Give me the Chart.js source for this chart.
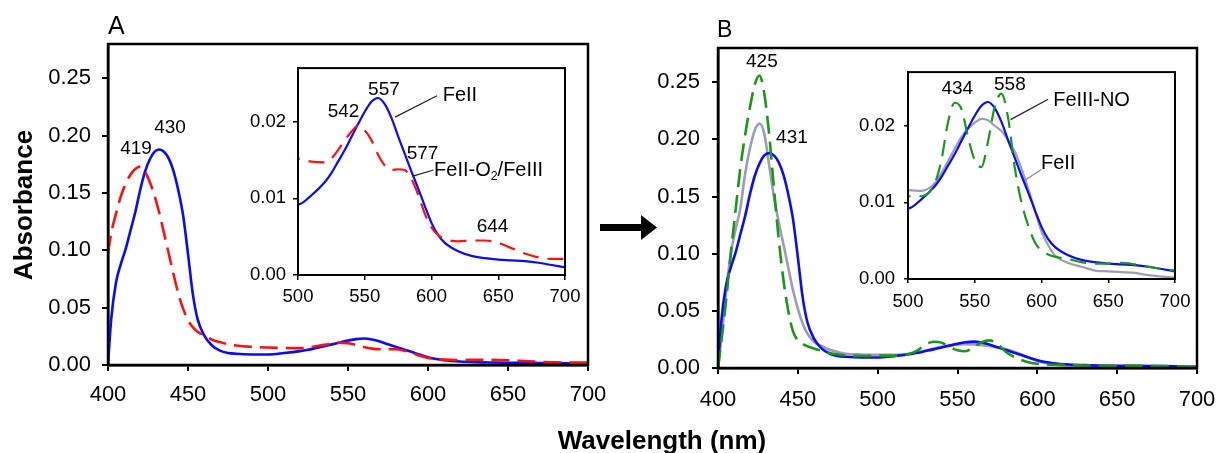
<!DOCTYPE html>
<html><head><meta charset="utf-8">
<script src="https://cdn.jsdelivr.net/npm/chart.js@4.4.0/dist/chart.umd.min.js"></script>
<style>
html,body{margin:0;padding:0;background:#fff;}
body{width:1218px;height:453px;position:relative;overflow:hidden;font-family:"Liberation Sans",Arial,sans-serif;}
canvas{position:absolute;}
.lbl{position:absolute;line-height:1;white-space:nowrap;color:#000;}
</style></head><body>
<canvas id="mainA" width="620" height="420" style="left:0;top:0"></canvas>
<canvas id="mainB" width="630" height="420" style="left:610px;top:0"></canvas>
<canvas id="insetA" width="380" height="280" style="left:230px;top:50px"></canvas>
<canvas id="insetB" width="378" height="280" style="left:840px;top:52px"></canvas>
<svg style="position:absolute;left:0;top:0" width="1218" height="453">
  <polygon points="600,224 641,224 641,215 657,227.5 641,240 641,231 600,231" fill="#000"/>
</svg>
<div class="lbl" style="left:108px;top:13px;font-size:25px">A</div>
<div class="lbl" style="left:717px;top:18px;font-size:23px">B</div>
<div class="lbl" style="left:23px;top:205px;font-size:26px;font-weight:bold;transform:translate(-50%,-50%) rotate(-90deg)">Absorbance</div>
<div class="lbl" style="left:662px;top:440px;font-size:26px;font-weight:bold;transform:translate(-50%,-50%)">Wavelength (nm)</div>
<script>
const FONT = '"Liberation Sans", Arial, sans-serif';

// ---- data ----
const wavelengths = [400,402,405,408,411,414,417,420,423,426,429,432,435,438,441,444,447,450,453,456,460,465,470,475,480,490,500,510,520,525,530,535,540,545,550,555,560,565,570,575,580,585,590,595,600,605,610,620,630,640,650,660,670,680,690,700];

const feII = [0.000,0.040,0.072,0.088,0.101,0.117,0.133,0.152,0.168,0.179,0.186,0.188,0.186,0.180,0.169,0.152,0.130,0.097,0.062,0.040,0.026,0.017,0.0125,0.0105,0.0098,0.0092,0.0092,0.0104,0.0121,0.0133,0.0148,0.0163,0.0180,0.0197,0.0213,0.0226,0.0231,0.0223,0.0205,0.0181,0.0158,0.0135,0.0113,0.0090,0.0068,0.0052,0.0042,0.0031,0.0025,0.0022,0.0020,0.0019,0.0018,0.0016,0.0013,0.0010];

const feIIO2 = [0.097,0.115,0.132,0.147,0.158,0.166,0.171,0.173,0.169,0.160,0.148,0.133,0.115,0.097,0.079,0.062,0.049,0.039,0.033,0.029,0.026,0.022,0.020,0.018,0.017,0.0158,0.0152,0.0148,0.0147,0.0152,0.0163,0.0176,0.0187,0.0195,0.0189,0.0176,0.0157,0.0143,0.0137,0.0138,0.0137,0.0125,0.0105,0.0080,0.0062,0.0052,0.0047,0.0044,0.0045,0.0045,0.0042,0.0035,0.0028,0.0023,0.0021,0.0021];

const feIIINO = [0.000,0.022,0.058,0.100,0.138,0.175,0.204,0.228,0.248,0.256,0.240,0.205,0.158,0.113,0.077,0.050,0.032,0.024,0.021,0.019,0.017,0.015,0.013,0.012,0.011,0.0105,0.0108,0.0108,0.0125,0.0155,0.0205,0.0230,0.0222,0.0185,0.0155,0.0146,0.0180,0.0225,0.0242,0.0210,0.0145,0.0100,0.0070,0.0048,0.0037,0.0032,0.0029,0.0026,0.0022,0.0020,0.0020,0.0021,0.0019,0.0016,0.0013,0.0011];

const greySeries = [0.000,0.025,0.065,0.100,0.121,0.140,0.170,0.192,0.208,0.214,0.205,0.178,0.150,0.128,0.108,0.088,0.068,0.052,0.039,0.030,0.023,0.019,0.016,0.014,0.0125,0.0118,0.0116,0.0115,0.0125,0.0138,0.0154,0.0170,0.0185,0.0196,0.0204,0.0209,0.0207,0.0200,0.0193,0.0181,0.0166,0.0144,0.0118,0.0090,0.0062,0.0044,0.0031,0.0021,0.0016,0.0011,0.0010,0.0009,0.0008,0.0005,0.0003,0.0002];

const xTicksMain = [400,450,500,550,600,650,700];
const yTicksMain = [0,0.05,0.10,0.15,0.20,0.25];
const xTicksInset = [500,550,600,650,700];
const yTicksInset = [0,0.01,0.02];

const BLUE = '#0a0aff', RED = '#ff1010', GREEN = '#1a961a', GREY = '#9c9cb4';

// ---- plugins ----
const frame = {
  id:'frame',
  afterDatasetsDraw(chart, args, opts){
    const {ctx, chartArea:a} = chart;
    ctx.save(); ctx.strokeStyle='#000'; ctx.lineWidth=opts.w;
    ctx.strokeRect(a.left, a.top, a.right-a.left, a.bottom-a.top);
    ctx.restore();
  }
};
const notes = {
  id:'notes',
  afterDraw(chart, args, opts){
    const ctx = chart.ctx, xs = chart.scales.x, ys = chart.scales.y;
    ctx.save();
    (opts.lines||[]).forEach(l=>{
      ctx.strokeStyle=l.color; ctx.lineWidth=1.2; ctx.beginPath();
      ctx.moveTo(xs.getPixelForValue(l.x1), ys.getPixelForValue(l.y1));
      ctx.lineTo(xs.getPixelForValue(l.x2), ys.getPixelForValue(l.y2));
      ctx.stroke();
    });
    (opts.items||[]).forEach(n=>{
      ctx.fillStyle='#000'; ctx.textBaseline='middle';
      let x = xs.getPixelForValue(n.x), y = ys.getPixelForValue(n.y);
      if (n.parts){
        ctx.textAlign='left';
        n.parts.forEach(p=>{
          const sz = p.sub ? n.size*0.62 : n.size;
          ctx.font = sz+'px '+FONT;
          ctx.fillText(p.t, x, y + (p.sub ? n.size*0.3 : 0));
          x += ctx.measureText(p.t).width;
        });
      } else {
        ctx.font = n.size+'px '+FONT;
        ctx.textAlign = n.align||'center';
        ctx.fillText(n.t, x, y);
      }
    });
    ctx.restore();
  }
};

function makeChart(id, c){
  return new Chart(document.getElementById(id), {
    type:'line',
    data:{datasets:c.series.map(s=>({
      data: wavelengths.map((w,i)=>({x:w, y:s.values[i]})),
      borderColor:s.color, borderWidth:s.width, borderDash:s.dash||[],
      borderCapStyle:'butt', pointRadius:0, fill:false, cubicInterpolationMode:'monotone'
    }))},
    options:{
      responsive:false, animation:false, devicePixelRatio:1,
      layout:{padding:c.pad},
      plugins:{legend:{display:false}, tooltip:{enabled:false}, frame:{w:c.frameW}, notes:{items:c.notes, lines:c.lines}},
      scales:{
        x:{type:'linear', min:c.xmin, max:c.xmax,
          afterBuildTicks:s=>{s.ticks=c.xticks.map(v=>({value:v}));},
          afterFit:s=>{s.height=c.xh;},
          grid:{drawOnChartArea:false, color:'#000', lineWidth:c.tickW, tickLength:c.tl},
          border:{color:'#000', width:c.frameW},
          ticks:{color:'#000', font:{family:FONT, size:c.fs}, padding:c.xpad, maxRotation:0, autoSkip:false, callback:v=>String(v)}
        },
        y:{type:'linear', min:0, max:c.ymax,
          afterBuildTicks:s=>{s.ticks=c.yticks.map(v=>({value:v}));},
          afterFit:s=>{s.width=c.yw;},
          grid:{drawOnChartArea:false, color:'#000', lineWidth:c.tickW, tickLength:c.tl},
          border:{color:'#000', width:c.frameW},
          ticks:{color:'#000', font:{family:FONT, size:c.fs}, padding:c.ypad, autoSkip:false, callback:v=>v.toFixed(2)}
        }
      }
    },
    plugins:[frame, notes]
  });
}

makeChart('mainA', {
  series:[{values:feIIO2, color:RED, width:2.6, dash:[18,8]},{values:feII, color:BLUE, width:2.6}],
  pad:{left:0,right:32,top:44,bottom:0}, yw:108, xh:55, xmin:400, xmax:700, ymax:0.28,
  xticks:xTicksMain, yticks:yTicksMain, fs:22, tl:6, tickW:2, frameW:2.5, xpad:11, ypad:11,
  notes:[{t:'419', x:417.5, y:0.189, size:19},{t:'430', x:438.8, y:0.207, size:19}]
});

makeChart('mainB', {
  series:[{values:feIIINO, color:GREEN, width:2.6, dash:[18,8]},{values:feII, color:BLUE, width:2.6},{values:greySeries, color:GREY, width:2.6}],
  pad:{left:0,right:43,top:48,bottom:0}, yw:108, xh:52, xmin:400, xmax:700, ymax:0.28,
  xticks:xTicksMain, yticks:yTicksMain, fs:22, tl:6, tickW:2, frameW:2.5, xpad:13, ypad:12,
  notes:[{t:'425', x:427.5, y:0.268, size:19},{t:'431', x:446.3, y:0.2013, size:19}]
});

makeChart('insetA', {
  series:[{values:feIIO2, color:RED, width:2.2, dash:[16,9]},{values:feII, color:BLUE, width:2.2}],
  pad:{left:0,right:45,top:11,bottom:0}, yw:68, xh:55, xmin:500, xmax:700, ymax:0.027,
  xticks:xTicksInset, yticks:yTicksInset, fs:18.5, tl:5, tickW:1.5, frameW:2, xpad:6, ypad:7,
  notes:[
    {t:'557', x:564.4, y:0.0242, size:19},
    {t:'542', x:534.1, y:0.0213, size:19},
    {t:'FeII', x:621.3, y:0.0234, size:20},
    {t:'577', x:593.3, y:0.0158, size:19},
    {x:601.9, y:0.0136, size:20, parts:[{t:'FeII-O'},{t:'2',sub:true},{t:'/FeIII'}]},
    {t:'644', x:645.7, y:0.0063, size:19}
  ],
  lines:[
    {x1:572.7,y1:0.0206,x2:604.1,y2:0.0234,color:'#222'},
    {x1:586.1,y1:0.0129,x2:601.5,y2:0.0137,color:'#222'}
  ]
});

makeChart('insetB', {
  series:[{values:feIIINO, color:GREEN, width:2.2, dash:[16,9]},{values:feII, color:BLUE, width:2.2},{values:greySeries, color:GREY, width:2.2}],
  pad:{left:0,right:43,top:12,bottom:0}, yw:68, xh:53, xmin:500, xmax:700, ymax:0.027,
  xticks:xTicksInset, yticks:yTicksInset, fs:18.5, tl:4, tickW:1.5, frameW:2, xpad:8, ypad:9,
  notes:[
    {t:'434', x:536.9, y:0.0248, size:19},
    {t:'558', x:576.3, y:0.0253, size:19},
    {t:'FeIII-NO', x:637.5, y:0.0233, size:20},
    {t:'FeII', x:612.5, y:0.0151, size:20}
  ],
  lines:[
    {x1:576.8,y1:0.0208,x2:605,y2:0.02345,color:'#222'},
    {x1:587.5,y1:0.0129,x2:600,y2:0.0143,color:'#888'}
  ]
});
</script>
</body></html>
